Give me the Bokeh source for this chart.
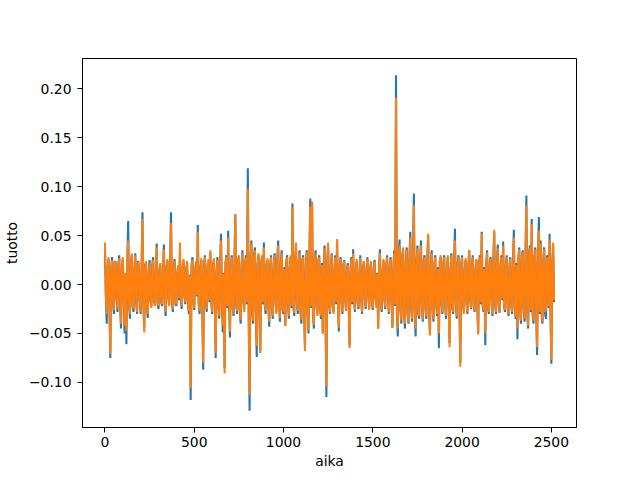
from bokeh.plotting import figure
from bokeh.models import Range1d, FixedTicker, CustomJSTickFormatter
from bokeh.embed import file_html
from bokeh.resources import INLINE

# daily returns (in thousandths), one value every 5 trading days
blue_milli = [
    38, -12, -40, 18, 25, -20, -75, 15, 28, -18, -30, 24, 22, -15, -28, 20, 30, -22, -45, 16,
    26, -14, -50, 10, -61, 22, 65, -20, -35, 18, 30, -22, -28, 16, 32, -18, -30, 24, 20, -16,
    -30, 15, 74, -18, -45, 20, 22, -24, -34, 14, 25, -16, -22, 20, 28, -18, -20, 12, 42, -20,
    -25, 14, 20, -18, -22, 12, 41, -20, -32, 18, 24, -14, -20, 22, 74, -16, -28, 15, 26, -20,
    -22, 12, 18, -16, 30, -14, -25, 18, 24, -12, -20, 16, 22, -18, -30, 10, -118, 20, 28, -15,
    -26, 14, 22, -12, 61, -20, -30, 16, 25, -22, -87, 18, 30, -16, -28, 20, 24, -18, 33, -14,
    -30, 18, 25, -20, -75, 14, 28, -22, -35, 20, 52, -18, -49, 12, -85, 22, 30, -24, 55, -18,
    -54, 16, 30, -22, -32, 18, 72, -20, -30, 24, 28, -26, -40, 20, 35, -18, -25, 22, 30, -20,
    119, -30, -129, 25, 45, -28, -40, 30, 38, -24, -74, 20, 30, -26, -68, 22, 28, -20, 43, -22,
    -30, 20, 25, -22, -43, 18, 30, -24, -35, 20, 32, -18, -28, 24, 45, -20, -38, 22, 35, -26,
    -30, 18, -42, 22, 30, -20, -35, 16, 28, -24, 83, -22, -32, 26, 38, -20, -30, 24, 35, -28,
    -40, 24, 30, -26, -62, 20, 35, -28, -50, 30, 88, -24, 80, -30, -45, 26, 35, -22, -30, 24,
    30, -24, -35, 22, -50, 20, 40, -26, -115, 24, 38, -20, -30, 18, 32, -22, -28, 16, 30, -20,
    46, -20, -48, 18, 28, -16, -30, 20, 25, -14, -25, 16, 22, -18, -62, 14, 28, -20, 36, -16,
    -28, 14, 24, -18, -25, 12, 30, -16, -30, 18, 22, -14, -25, 16, 28, -12, -24, 15, 22, -18,
    -26, 16, 25, -14, -22, 12, -45, 18, 36, -20, -28, 14, 24, -16, -25, 18, 30, -12, -30, 20,
    28, -18, -44, 16, 35, -22, 214, -30, -53, 28, 46, -26, -40, 30, 35, -28, -45, 24, 38, -30,
    -40, 26, 54, -24, -38, 30, 93, -28, -53, 24, 40, -30, -35, 26, 45, -22, -38, 24, 30, -26,
    -35, 22, 50, -24, -50, 20, 35, -26, -38, 22, 30, -20, -32, 18, -65, 24, 28, -20, -30, 22,
    30, -20, -35, 18, 28, -22, -60, 16, 32, -24, -30, 20, 57, -18, -35, 22, 30, -16, -80, 20,
    30, -18, -28, 16, 25, -20, -30, 18, 35, -14, -25, 20, 30, -22, -28, 16, 25, -18, -50, 22,
    30, -20, 54, -22, -28, 18, -62, 20, 35, -24, -30, 22, 28, -18, -32, 24, 54, -20, -30, 22,
    41, -20, -29, 18, 30, -16, 44, -22, -28, 20, 30, -24, -32, 18, 28, -20, -30, 22, 56, -24,
    -35, 22, -56, 26, 38, -28, -40, 30, 35, -26, -38, 28, 91, -30, -45, 32, 40, -28, 67, -30,
    -40, 28, 38, -26, -72, 24, 69, -30, 45, -28, -40, 26, 38, -30, -35, 28, 30, -24, 52, -26,
    -81, 22, 40, -18,
]

orange_milli = [
    43, -10, -30, 16, 28, -18, -71, 14, 25, -16, -26, 22, 24, -13, -25, 18, 27, -20, -40, 15,
    28, -12, -42, 12, -48, 20, 45, -18, -30, 16, 32, -20, -25, 14, 30, -16, -28, 22, 22, -14,
    -28, 14, 67, -16, -49, 18, 24, -22, -30, 12, 22, -15, -24, 18, 25, -16, -22, 11, 38, -18,
    -22, 12, 22, -16, -20, 11, 36, -18, -28, 16, 26, -13, -22, 20, 63, -15, -25, 13, 24, -18,
    -20, 11, 20, -14, 43, -12, -22, 16, 26, -11, -18, 14, 24, -16, -27, 9, -106, 18, 25, -13,
    -24, 12, 24, -11, 54, -18, -27, 15, 27, -20, -80, 16, 28, -14, -25, 18, 26, -16, 35, -12,
    -28, 16, 27, -18, -70, 13, 25, -20, -32, 18, 45, -16, -42, 11, -91, 20, 28, -22, 48, -16,
    -48, 14, 28, -20, -30, 16, 72, -18, -27, 22, 30, -24, -36, 18, 32, -16, -28, 20, 27, -18,
    98, -27, -113, 22, 42, -25, -37, 27, 35, -22, -63, 18, 32, -24, -70, 20, 30, -18, 38, -20,
    -27, 18, 27, -20, -38, 16, 28, -22, -32, 18, 30, -16, -30, 22, 40, -18, -34, 20, 32, -24,
    -28, 16, -42, 20, 28, -18, -32, 14, 30, -22, 79, -20, -29, 24, 43, -18, -27, 22, 32, -26,
    -36, 22, 28, -24, -68, 18, 33, -26, -47, 28, 80, -22, 85, -28, -41, 24, 32, -20, -32, 22,
    28, -22, -32, 20, -50, 18, 37, -24, -104, 22, 43, -18, -28, 16, 30, -20, -30, 14, 28, -18,
    46, -18, -44, 16, 26, -14, -28, 18, 24, -13, -27, 14, 20, -16, -65, 12, 26, -18, 32, -14,
    -26, 13, 26, -16, -23, 11, 27, -15, -28, 16, 24, -13, -23, 15, 26, -11, -26, 14, 24, -16,
    -24, 14, 23, -13, -24, 11, -45, 16, 32, -18, -26, 13, 26, -15, -23, 16, 28, -11, -28, 18,
    26, -16, -44, 14, 32, -20, 191, -28, -45, 26, 40, -24, -37, 28, 38, -26, -40, 22, 35, -28,
    -39, 24, 48, -22, -35, 28, 81, -26, -45, 22, 37, -28, -32, 24, 40, -20, -36, 22, 28, -24,
    -32, 20, 52, -22, -52, 18, 32, -24, -35, 20, 28, -18, -30, 16, -50, 22, 30, -18, -28, 20,
    28, -18, -32, 16, 30, -20, -64, 14, 30, -22, -28, 18, 45, -16, -32, 20, 28, -14, -84, 18,
    28, -16, -30, 14, 27, -18, -28, 16, 35, -13, -24, 18, 28, -20, -27, 14, 26, -16, -51, 20,
    28, -18, 52, -20, -26, 16, -50, 18, 33, -22, -28, 20, 26, -16, -30, 22, 56, -18, -28, 20,
    37, -18, -29, 16, 28, -14, 40, -20, -26, 18, 28, -22, -30, 16, 26, -18, -28, 20, 48, -22,
    -33, 20, -45, 24, 36, -26, -37, 28, 33, -24, -35, 26, 81, -28, -42, 30, 38, -26, 62, -28,
    -37, 26, 36, -24, -64, 22, 55, -28, 42, -26, -38, 24, 36, -28, -25, 26, 28, -22, 46, -24,
    -77, 20, 43, -16,
]

n_days = 2516
sample_step = 5
x_ticks = [0, 500, 1000, 1500, 2000, 2500]
y_ticks = [-0.10, -0.05, 0.00, 0.05, 0.10, 0.15, 0.20]

blue = [v / 1000 for v in blue_milli]
orange = [v / 1000 for v in orange_milli]
x_blue = [sample_step * i for i in range(len(blue))]
x_orange = [sample_step * i for i in range(len(orange))]

xmin, xmax = 0, n_days - 1
xm = 0.05 * (xmax - xmin)
ymin = min(blue + orange)
ymax = max(blue + orange)
ym = 0.05 * (ymax - ymin)

p = figure(width=640, height=480, output_backend="svg", toolbar_location=None,
           x_range=Range1d(xmin - xm, xmax + xm), y_range=Range1d(ymin - ym, ymax + ym))
p.min_border_left = 80
p.min_border_right = 64
p.min_border_top = 58
p.min_border_bottom = 53
p.background_fill_color = "white"
p.border_fill_color = "white"
p.outline_line_color = "black"
p.outline_line_width = 1
p.grid.visible = False

p.line(x_blue, blue, line_color="#1f77b4", line_width=2.08)
p.line(x_orange, orange, line_color="#ff7f0e", line_width=2.08)

p.xaxis.ticker = FixedTicker(ticks=x_ticks)
p.yaxis.ticker = FixedTicker(ticks=y_ticks)
p.yaxis.formatter = CustomJSTickFormatter(code="""
    var s = Math.abs(tick).toFixed(2);
    return (tick < -1e-9 ? '\u2212' : '') + s;
""")
p.xaxis.formatter = CustomJSTickFormatter(code="""
    return (tick < 0 ? '\u2212' : '') + Math.abs(Math.round(tick)).toString();
""")

for ax in (p.xaxis, p.yaxis):
    ax.axis_line_color = "black"
    ax.axis_line_width = 1
    ax.major_tick_line_color = "black"
    ax.major_tick_line_width = 1
    ax.major_tick_out = 5
    ax.major_tick_in = 0
    ax.minor_tick_line_color = None
    ax.major_label_text_font = "DejaVu Sans"
    ax.major_label_text_font_size = "13.9px"
    ax.major_label_text_color = "black"
    ax.axis_label_text_font = "DejaVu Sans"
    ax.axis_label_text_font_size = "13.9px"
    ax.axis_label_text_font_style = "normal"
    ax.axis_label_text_color = "black"

p.xaxis.major_label_standoff = 4
p.xaxis.axis_label_standoff = 3
p.yaxis.major_label_standoff = 6
p.yaxis.axis_label_standoff = 6

p.xaxis.axis_label = "aika"
p.yaxis.axis_label = "tuotto"

open("out.html", "w").write(file_html(p, INLINE))
